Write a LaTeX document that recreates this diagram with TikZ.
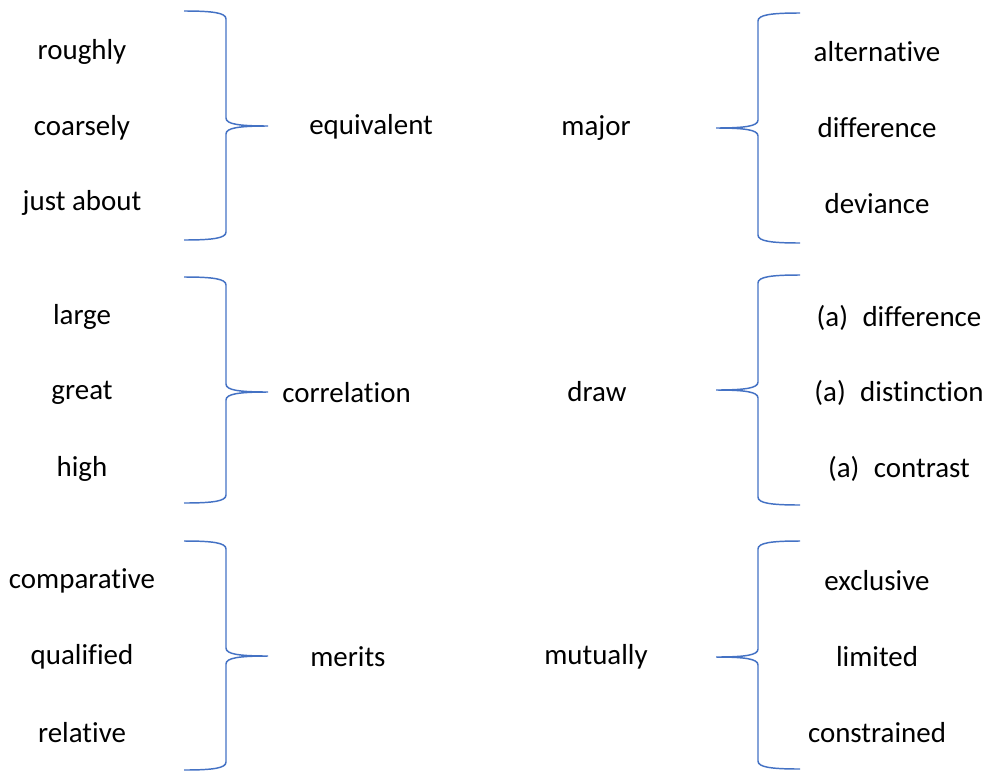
\documentclass[tikz,border=0pt]{standalone}
\usepackage{fontspec}
\setmainfont[RawFeature={-liga;-clig;-calt;-dlig}]{Carlito}
\begin{document}
\begin{tikzpicture}[x=0.75pt,y=-0.75pt,
  bracestyle/.style={draw=braceblue,line width=1.1pt},
  word/.style={inner sep=0pt,font=\fontsize{21.7}{26}\selectfont,text=black}]
\definecolor{braceblue}{HTML}{4472C4}
\useasboundingbox (0,0) rectangle (991,771);

% closing brace: arms end at x=184, spine at x=226, tip at x=268
\newcommand\closecurly[3]{%
  \draw[bracestyle] (184,#1) .. controls (214,#1) and (226,#1+2) .. (226,#1+8)
    -- (226,#2-8) .. controls (226,#2-2) and (238,#2) .. (268,#2)
    .. controls (238,#2) and (226,#2+2) .. (226,#2+8)
    -- (226,#3-8) .. controls (226,#3-2) and (214,#3) .. (184,#3);}
% opening brace: arms end at x=800, spine at x=758, tip at x=716
\newcommand\opencurly[3]{%
  \draw[bracestyle] (800,#1) .. controls (770,#1) and (758,#1+2) .. (758,#1+8)
    -- (758,#2-8) .. controls (758,#2-2) and (746,#2) .. (716,#2)
    .. controls (746,#2) and (758,#2+2) .. (758,#2+8)
    -- (758,#3-8) .. controls (758,#3-2) and (770,#3) .. (800,#3);}

\closecurly{11}{126}{240}
\closecurly{277}{392}{503}
\closecurly{541}{656}{770}
\opencurly{13}{128}{243}
\opencurly{275}{390}{505}
\opencurly{541}{657}{769}

% left column
\node[word] (roughly) at (82,52) {roughly};
\node[word] (coarsely) at (82,128) {coarsely};
\node[word] (justabout) at (82,203) {just about};
\node[word] (large) at (82,317) {large};
\node[word] (great) at (82,393) {great};
\node[word] (high) at (82,469) {high};
\node[word] (comparative) at (82,581) {comparative};
\node[word] (qualified) at (82,657) {qualified};
\node[word] (relative) at (82,733) {relative};

% headwords beside the closing braces
\node[word,anchor=west] (equivalent) at (309,127) {equivalent};
\node[word,anchor=west] (correlation) at (282,393) {correlation};
\node[word,anchor=west] (merits) at (310,657) {merits};

% headwords beside the opening braces
\node[word] (major) at (596,128) {major};
\node[word] (draw) at (597,392) {draw};
\node[word] (mutually) at (596,657) {mutually};

% right column
\node[word] (alternative) at (877,52) {alternative};
\node[word] (difference) at (877,128) {difference};
\node[word] (deviance) at (877,204) {deviance};
\node[word] (adifference) at (899,318) {(a)\hspace{0.5em}difference};
\node[word] (adistinction) at (899,393) {(a)\hspace{0.5em}distinction};
\node[word] (acontrast) at (899,469) {(a)\hspace{0.5em}contrast};
\node[word] (exclusive) at (877,581) {exclusive};
\node[word] (limited) at (877,657) {limited};
\node[word] (constrained) at (877,733) {constrained};
\end{tikzpicture}
\end{document}
